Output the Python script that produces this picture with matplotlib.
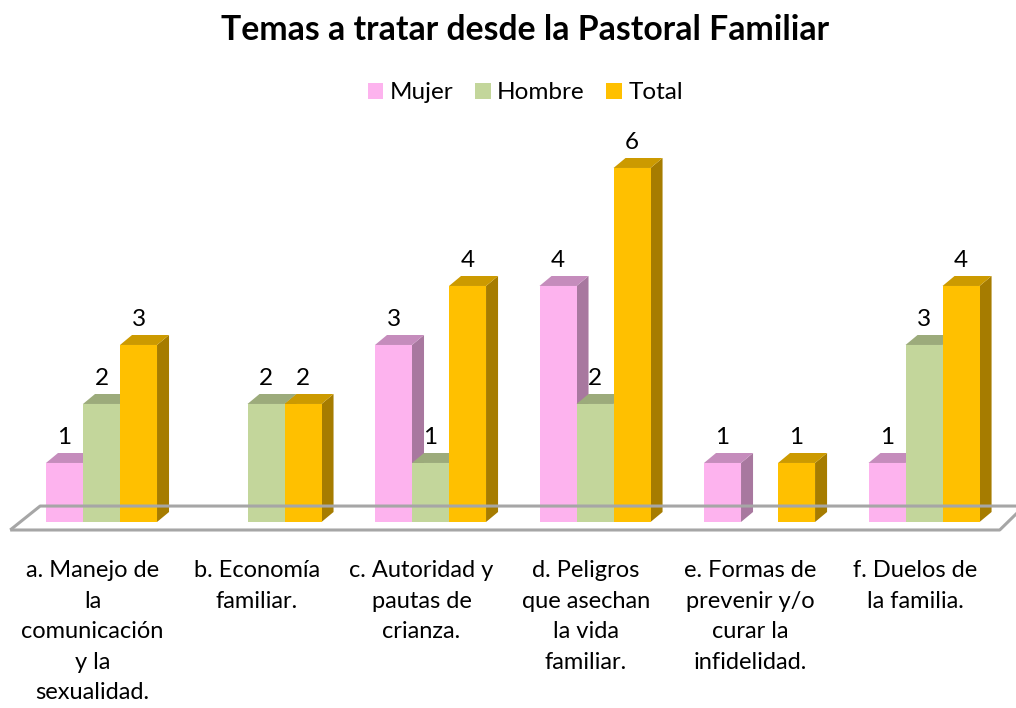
import matplotlib.pyplot as plt
from matplotlib.patches import Polygon, Rectangle
from matplotlib.lines import Line2D

# chart data
categorias = ["a. Manejo de\nla\ncomunicación\ny la\nsexualidad.",
              "b. Economía\nfamiliar.",
              "c. Autoridad y\npautas de\ncrianza.",
              "d. Peligros\nque asechan\nla vida\nfamiliar.",
              "e. Formas de\nprevenir y/o\ncurar la\ninfidelidad.",
              "f. Duelos de\nla familia."]
series = ["Mujer", "Hombre", "Total"]
mujer = [1, 0, 3, 4, 1, 1]
hombre = [2, 2, 1, 2, 0, 3]
total = [3, 2, 4, 6, 1, 4]

# (front, top, side) colours per series
colores = {
    "Mujer": ("#FDB3EE", "#C58CBC", "#A8789F"),
    "Hombre": ("#C3D69B", "#9CAB7B", "#849266"),
    "Total": ("#FFC000", "#CC9A00", "#A67C00"),
}
fuente = ["Lato", "DejaVu Sans"]

fig = plt.figure(figsize=(10.16, 7.08), dpi=100)
ax = fig.add_axes([0, 0, 1, 1])
ax.set_xlim(-0.617, 5.559)
ax.set_ylim(-3.153, 8.847)
ax.axis("off")

ancho = 0.225
dx, dy = 0.073, 0.169  # 3d depth offset

# floor
piso_y0, piso_y1 = -0.136, 0.27
ax.add_line(Line2D([-0.555, 5.46, 5.57], [piso_y0, piso_y0, piso_y0 + 0.3],
                   color="#A6A6A6", lw=2.2, solid_capstyle="butt"))
ax.add_line(Line2D([-0.555, -0.373, 5.57], [piso_y0, piso_y1, piso_y1],
                   color="#A6A6A6", lw=2.2, solid_capstyle="butt"))

valores = {"Mujer": mujer, "Hombre": hombre, "Total": total}
for i in range(len(categorias)):
    for j, s in enumerate(series):
        v = valores[s][i]
        if v == 0:
            continue
        x0 = i + (j - 1.5) * ancho
        x1 = x0 + ancho
        frente, arriba, lado = colores[s]
        ax.add_patch(Polygon([(x1, 0), (x1 + dx, dy), (x1 + dx, v + dy), (x1, v)],
                             closed=True, fc=lado, ec="none"))
        ax.add_patch(Polygon([(x0, v), (x0 + dx, v + dy), (x1 + dx, v + dy), (x1, v)],
                             closed=True, fc=arriba, ec="none"))
        ax.add_patch(Rectangle((x0, 0), ancho, v, fc=frente, ec="none"))
        ax.text((x0 + x1) / 2, v + 0.44, str(v), ha="center", va="center",
                fontsize=17.5, family=fuente, color="black")

for i, c in enumerate(categorias):
    ax.text(i - 0.055, -0.65, c, ha="center", va="top", fontsize=17,
            family=fuente, linespacing=1.56)

fig.text(0.517, 0.957, "Temas a tratar desde la Pastoral Familiar", ha="center",
         va="center", fontsize=24.3, fontweight="bold", family=fuente)

handles = [Rectangle((0, 0), 1, 1, fc=colores[s][0], ec="none") for s in series]
fig.legend(handles, series, loc="center", bbox_to_anchor=(0.517, 0.869), ncol=3,
           frameon=False, prop={"family": fuente, "size": 17.5}, handlelength=0.65,
           handleheight=0.65, handletextpad=0.25, columnspacing=0.9)

fig.savefig("out.png", dpi=100)
